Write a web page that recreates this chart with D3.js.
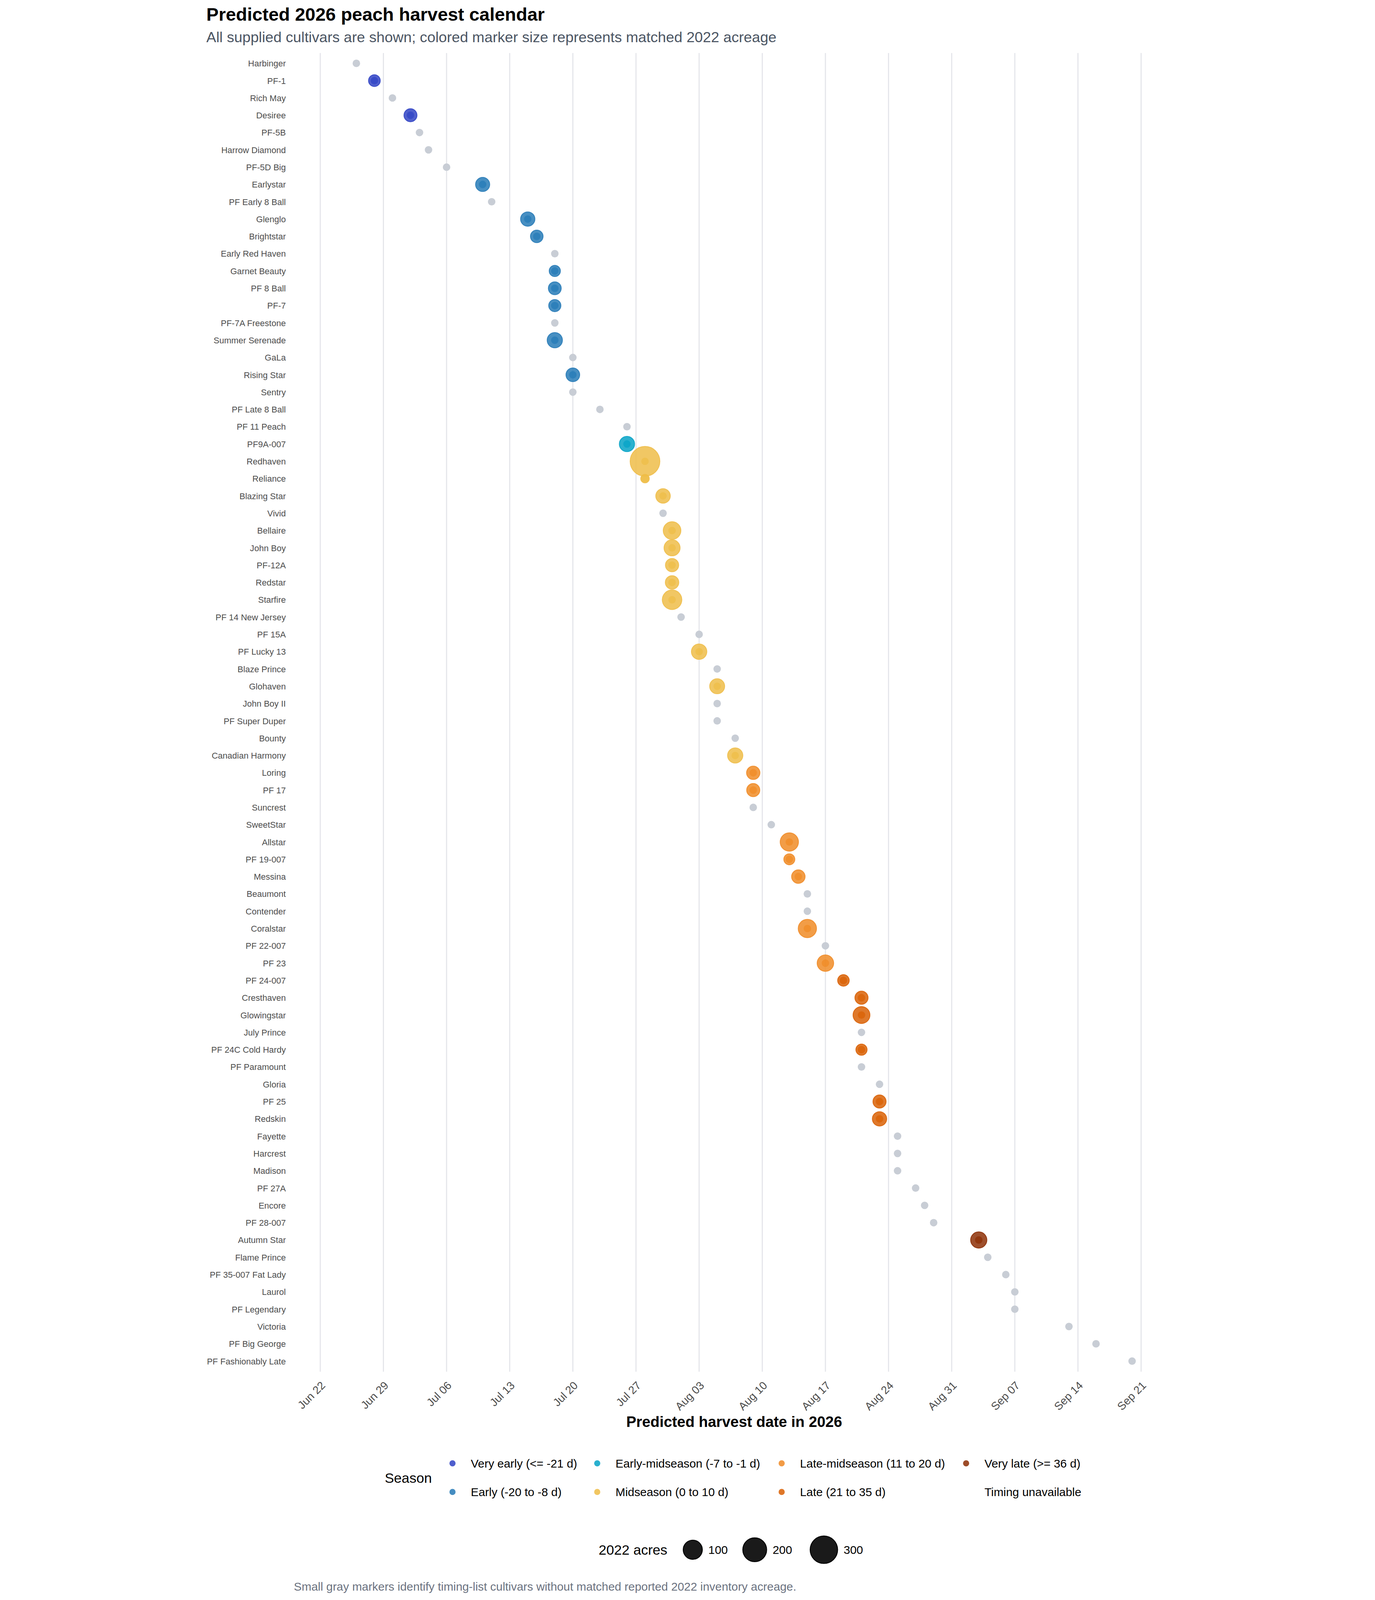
<!DOCTYPE html>
<html>
<head>
<meta charset="utf-8">
<title>Predicted 2026 peach harvest calendar</title>
<script src="https://d3js.org/d3.v7.min.js"></script>
<style>
  html, body { margin: 0; padding: 0; background: #ffffff; overflow: hidden; }
  #chart svg { display: block; width: 100vw; height: 100vh; }
  svg text { font-family: "Liberation Sans", Arial, sans-serif; }
</style>
</head>
<body>
<div id="chart"></div>
<script>
// cultivars in plotting order (top to bottom)
const cultivars = [
  "Harbinger", "PF-1", "Rich May", "Desiree", "PF-5B", "Harrow Diamond", "PF-5D Big",
  "Earlystar", "PF Early 8 Ball", "Glenglo", "Brightstar", "Early Red Haven", "Garnet Beauty",
  "PF 8 Ball", "PF-7", "PF-7A Freestone", "Summer Serenade", "GaLa", "Rising Star", "Sentry",
  "PF Late 8 Ball", "PF 11 Peach", "PF9A-007", "Redhaven", "Reliance", "Blazing Star", "Vivid",
  "Bellaire", "John Boy", "PF-12A", "Redstar", "Starfire", "PF 14 New Jersey", "PF 15A",
  "PF Lucky 13", "Blaze Prince", "Glohaven", "John Boy II", "PF Super Duper", "Bounty",
  "Canadian Harmony", "Loring", "PF 17", "Suncrest", "SweetStar", "Allstar", "PF 19-007",
  "Messina", "Beaumont", "Contender", "Coralstar", "PF 22-007", "PF 23", "PF 24-007",
  "Cresthaven", "Glowingstar", "July Prince", "PF 24C Cold Hardy", "PF Paramount", "Gloria",
  "PF 25", "Redskin", "Fayette", "Harcrest", "Madison", "PF 27A", "Encore", "PF 28-007",
  "Autumn Star", "Flame Prince", "PF 35-007 Fat Lady", "Laurol", "PF Legendary", "Victoria",
  "PF Big George", "PF Fashionably Late"
];

const harvestDates = [
  "2026-06-26", "2026-06-28", "2026-06-30", "2026-07-02", "2026-07-03", "2026-07-04", "2026-07-06",
  "2026-07-10", "2026-07-11", "2026-07-15", "2026-07-16", "2026-07-18", "2026-07-18",
  "2026-07-18", "2026-07-18", "2026-07-18", "2026-07-18", "2026-07-20", "2026-07-20", "2026-07-20",
  "2026-07-23", "2026-07-26", "2026-07-26", "2026-07-28", "2026-07-28", "2026-07-30", "2026-07-30",
  "2026-07-31", "2026-07-31", "2026-07-31", "2026-07-31", "2026-07-31", "2026-08-01", "2026-08-03",
  "2026-08-03", "2026-08-05", "2026-08-05", "2026-08-05", "2026-08-05", "2026-08-07",
  "2026-08-07", "2026-08-09", "2026-08-09", "2026-08-09", "2026-08-11", "2026-08-13", "2026-08-13",
  "2026-08-14", "2026-08-15", "2026-08-15", "2026-08-15", "2026-08-17", "2026-08-17", "2026-08-19",
  "2026-08-21", "2026-08-21", "2026-08-21", "2026-08-21", "2026-08-21", "2026-08-23",
  "2026-08-23", "2026-08-23", "2026-08-25", "2026-08-25", "2026-08-25", "2026-08-27", "2026-08-28", "2026-08-29",
  "2026-09-03", "2026-09-04", "2026-09-06", "2026-09-07", "2026-09-07", "2026-09-13",
  "2026-09-16", "2026-09-20"
];

// matched 2022 acreage (null = no matched inventory -> small gray marker)
const acres2022 = [
  null, 12, null, 21, null, null, null,
  31, null, 33, 18, null, 9,
  20, 15, null, 43, null, 27, null,
  null, null, 43, 371, 0.5, 35, null,
  75, 53, 23, 25, 107, null, null,
  45, null, 40, null, null, null,
  43, 24, 22, null, null, 85, 8,
  25, null, null, 85, null, 59, 11,
  22, 64, null, 9, null, null,
  22, 33, null, null, null, null, null, null,
  55, null, null, null, null, null,
  null, null
];

// season class index (see seasonNames), null where no acreage is matched
const seasonIndex = [
  null, 0, null, 0, null, null, null,
  1, null, 1, 1, null, 1,
  1, 1, null, 1, null, 1, null,
  null, null, 2, 3, 3, 3, null,
  3, 3, 3, 3, 3, null, null,
  3, null, 3, null, null, null,
  3, 4, 4, null, null, 4, 4,
  4, null, null, 4, null, 4, 5,
  5, 5, null, 5, null, null,
  5, 5, null, null, null, null, null, null,
  6, null, null, null, null, null,
  null, null
];

const seasonNames = [
  "Very early (<= -21 d)", "Early (-20 to -8 d)", "Early-midseason (-7 to -1 d)",
  "Midseason (0 to 10 d)", "Late-midseason (11 to 20 d)", "Late (21 to 35 d)",
  "Very late (>= 36 d)", "Timing unavailable"
];
const seasonColors = ["#2f42c4", "#2479b6", "#04a2c6", "#eebc46", "#f08a24", "#d95f02", "#8c2d04", null];
const sizeBreaks = [100, 200, 300];

function render() {
    let W = 3520, H = 5760;
    let plotTop = 191, plotBottom = 4938;
    let grayColor = "#c8cdd5";
    let smallR = 13.5;

    // fixed drawing coordinates, scaled to whatever the window offers
    let svg = d3.select("#chart")
        .append("svg")
        .attr("viewBox", "0 0 " + W + " " + H)
        .attr("preserveAspectRatio", "xMidYMid meet");

    svg.append("rect")
        .attr("width", W)
        .attr("height", H)
        .attr("fill", "#ffffff");

    let parse = d3.timeParse("%Y-%m-%d");
    let data = cultivars.map(function(c, i) {
        return {name: c, date: parse(harvestDates[i]), acres: acres2022[i], season: seasonIndex[i]};
    });

    let xScale = d3.scaleTime()
        .domain([parse("2026-06-22"), parse("2026-09-21")])
        .range([438, 3393]);

    let yScale = d3.scalePoint()
        .domain(cultivars)
        .range([228, 4900]);

    let rScale = d3.scaleSqrt()
        .domain([0, d3.max(acres2022)])
        .range([15.5, 55]);

    let ticks = xScale.ticks(d3.timeMonday.every(1));

    // vertical gridlines
    svg.append("g")
        .selectAll("line")
        .data(ticks)
        .enter()
        .append("line")
        .attr("x1", function(d){ return xScale(d); })
        .attr("x2", function(d){ return xScale(d); })
        .attr("y1", plotTop)
        .attr("y2", plotBottom)
        .attr("stroke", "#e4e5ea")
        .attr("stroke-width", 4);

    // x axis labels
    let xAxis = d3.axisBottom(xScale)
        .tickValues(ticks)
        .tickFormat(d3.timeFormat("%b %d"))
        .tickSize(0);

    let gx = svg.append("g")
        .attr("transform", "translate(0," + plotBottom + ")")
        .call(xAxis);
    gx.select(".domain").remove();
    gx.selectAll("text")
        .attr("x", 0)
        .attr("y", 0)
        .attr("dy", 0)
        .attr("transform", "translate(20,52) rotate(-45)")
        .style("text-anchor", "end")
        .attr("font-size", 40)
        .attr("fill", "#4d4d4d");

    // y axis labels
    let yAxis = d3.axisLeft(yScale)
        .tickSize(0)
        .tickPadding(0);

    let gy = svg.append("g")
        .attr("transform", "translate(314,0)")
        .call(yAxis);
    gy.select(".domain").remove();
    gy.selectAll("text")
        .attr("font-size", 31)
        .attr("dy", "0.35em")
        .attr("fill", "#4d4d4d");

    // gray markers (no matched acreage)
    svg.append("g")
        .selectAll("circle")
        .data(data.filter(function(d){ return d.acres === null; }))
        .enter()
        .append("circle")
        .attr("cx", function(d){ return xScale(d.date); })
        .attr("cy", function(d){ return yScale(d.name); })
        .attr("r", smallR)
        .attr("fill", grayColor);

    // colored markers sized by acreage
    let sized = data.filter(function(d){ return d.acres !== null; });
    let pts = svg.append("g")
        .selectAll("g")
        .data(sized)
        .enter()
        .append("g")
        .attr("transform", function(d){
            return "translate(" + xScale(d.date) + "," + yScale(d.name) + ")";
        });

    pts.append("circle")
        .attr("r", smallR)
        .attr("fill", function(d){ return seasonColors[d.season]; })
        .attr("fill-opacity", 0.7);

    pts.append("circle")
        .attr("r", function(d){ return rScale(d.acres) - 1.5; })
        .attr("fill", function(d){ return seasonColors[d.season]; })
        .attr("fill-opacity", 0.84)
        .attr("stroke", function(d){ return seasonColors[d.season]; })
        .attr("stroke-opacity", 0.85)
        .attr("stroke-width", 3);

    // titles
    svg.append("text")
        .attr("x", 28)
        .attr("y", 75)
        .attr("font-size", 66)
        .attr("font-weight", "bold")
        .attr("fill", "#000")
        .text("Predicted 2026 peach harvest calendar");

    svg.append("text")
        .attr("x", 28)
        .attr("y", 152)
        .attr("font-size", 53)
        .attr("fill", "#4b5563")
        .text("All supplied cultivars are shown; colored marker size represents matched 2022 acreage");

    svg.append("text")
        .attr("x", 1928)
        .attr("y", 5137)
        .attr("text-anchor", "middle")
        .attr("font-size", 54)
        .attr("font-weight", "bold")
        .attr("fill", "#000")
        .text("Predicted harvest date in 2026");

    // season legend
    let legendDotX = [914, 1435, 2099, 2763];
    let legendRowY = [5268, 5371];
    let legendOrder = [0, 1, 2, 3, 4, 5, 6, 7];

    svg.append("text")
        .attr("x", 670)
        .attr("y", 5321)
        .attr("dy", "0.35em")
        .attr("font-size", 50)
        .attr("fill", "#000")
        .text("Season");

    let items = svg.append("g")
        .selectAll("g")
        .data(legendOrder)
        .enter()
        .append("g")
        .attr("transform", function(d, i){
            return "translate(" + legendDotX[Math.floor(i / 2)] + "," + legendRowY[i % 2] + ")";
        });

    items.filter(function(d){ return seasonColors[d] !== null; })
        .append("circle")
        .attr("r", 11)
        .attr("fill", function(d){ return seasonColors[d]; })
        .attr("fill-opacity", 0.85);

    items.append("text")
        .attr("x", 66)
        .attr("dy", "0.35em")
        .attr("font-size", 42)
        .attr("fill", "#000")
        .text(function(d){ return seasonNames[d]; });

    // size legend
    let sizeX = [1779, 2002, 2251];
    let sizeY = 5579;

    svg.append("text")
        .attr("x", 1440)
        .attr("y", sizeY)
        .attr("dy", "0.35em")
        .attr("font-size", 50)
        .attr("fill", "#000")
        .text("2022 acres");

    let sizeItems = svg.append("g")
        .selectAll("g")
        .data(sizeBreaks)
        .enter()
        .append("g")
        .attr("transform", function(d, i){ return "translate(" + sizeX[i] + "," + sizeY + ")"; });

    sizeItems.append("circle")
        .attr("r", function(d){ return rScale(d) - 1.5; })
        .attr("fill", "#1a1a1a")
        .attr("stroke", "#000")
        .attr("stroke-width", 3);

    sizeItems.append("text")
        .attr("x", function(d){ return rScale(d) + 20; })
        .attr("dy", "0.35em")
        .attr("font-size", 42)
        .attr("fill", "#000")
        .text(function(d){ return d; });

    // footnote
    svg.append("text")
        .attr("x", 343)
        .attr("y", 5712)
        .attr("dy", "0.35em")
        .attr("font-size", 42)
        .attr("fill", "#6b7280")
        .text("Small gray markers identify timing-list cultivars without matched reported 2022 inventory acreage.");
}

render();
</script>
</body>
</html>
